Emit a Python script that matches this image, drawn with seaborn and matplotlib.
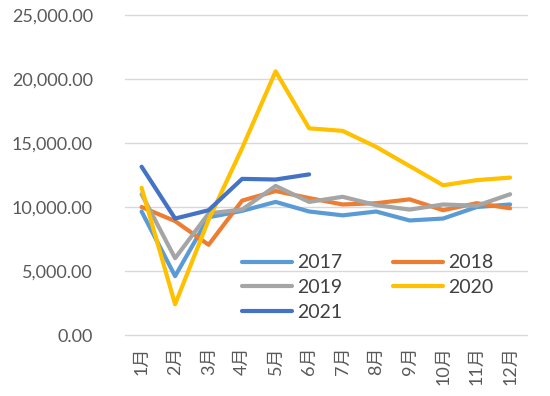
import pandas as pd
import matplotlib
matplotlib.use("Agg")
import matplotlib.pyplot as plt
from matplotlib.ticker import FuncFormatter
import seaborn as sns

months = ["1月", "2月", "3月", "4月", "5月", "6月", "7月", "8月", "9月", "10月", "11月", "12月"]
years = ["2017", "2018", "2019", "2020", "2021"]

v2017 = [9650, 4600, 9200, 9700, 10400, 9650, 9350, 9650, 8950, 9100, 10000, 10200]
v2018 = [10000, 8900, 7050, 10500, 11250, 10700, 10200, 10300, 10600, 9750, 10300, 9900]
v2019 = [11000, 6000, 9500, 9800, 11650, 10400, 10800, 10150, 9800, 10200, 10100, 11000]
v2020 = [11500, 2400, 9000, 14600, 20600, 16150, 15950, 14700, 13200, 11700, 12100, 12300]
v2021 = [13150, 9100, 9750, 12200, 12150, 12550]

colors = ["#5B9BD5", "#ED7D31", "#A5A5A5", "#FFC000", "#4472C4"]

rows = []
for y, vals in zip(years, [v2017, v2018, v2019, v2020, v2021]):
    for i, v in enumerate(vals):
        rows.append({"year": y, "m": i, "value": v})
df = pd.DataFrame(rows)

sns.set_theme(style="white")
plt.rcParams["font.family"] = ["Lato", "Noto Sans CJK SC", "DejaVu Sans"]

fig = plt.figure(figsize=(5.5, 3.96), dpi=100)
ax = fig.add_axes([0.227, 0.154, 0.731, 0.808])

sns.lineplot(data=df, x="m", y="value", hue="year", hue_order=years,
             palette=colors, linewidth=3, ax=ax, sort=False)
for ln in ax.get_lines():
    ln.set_solid_joinstyle("round")
    ln.set_solid_capstyle("round")

ax.set_xlim(-0.5, 11.5)
ax.set_ylim(0, 25000)
ax.set_yticks([0, 5000, 10000, 15000, 20000, 25000])
ax.yaxis.set_major_formatter(FuncFormatter(lambda v, p: "{:,.2f}".format(v)))
ax.set_xticks(range(12))
ax.set_xticklabels(months, rotation=90)
ax.grid(axis="y", color="#d9d9d9", linewidth=1)
for gl in ax.get_ygridlines():
    gl.set_clip_on(False)
ax.set_axisbelow(True)
for s in ax.spines.values():
    s.set_visible(False)
ax.tick_params(axis="y", length=0, pad=23, labelsize=13, labelcolor="#595959")
ax.tick_params(axis="x", length=0, pad=8, labelsize=13, labelcolor="#595959")
ax.set_xlabel("")
ax.set_ylabel("")

# legend filled row by row like the original
handles, labels = ax.get_legend_handles_labels()
order = [0, 2, 4, 1, 3]
leg = ax.legend([handles[i] for i in order], [labels[i] for i in order],
                ncol=2, loc="upper left", bbox_to_anchor=(0.291, 0.252), frameon=False,
                fontsize=14, handlelength=2.6, columnspacing=2.6, labelspacing=0.4,
                handletextpad=0.25, borderaxespad=0, borderpad=0)
for t in leg.get_texts():
    t.set_color("#404040")
for h in leg.legend_handles:
    h.set_solid_capstyle("round")

plt.savefig("out.png", dpi=100)
